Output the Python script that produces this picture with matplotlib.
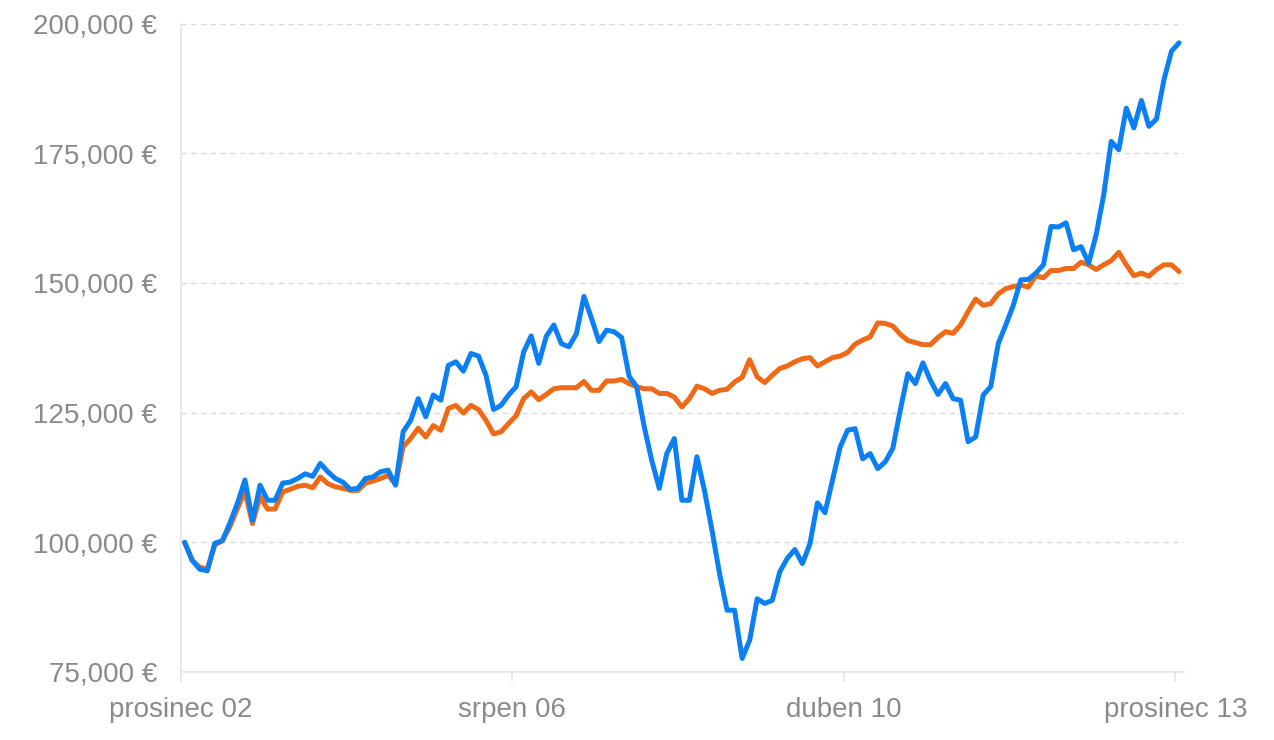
import matplotlib

matplotlib.use("Agg")
import matplotlib.pyplot as plt  # noqa: E402
import numpy as np  # noqa: E402
from matplotlib.ticker import FuncFormatter  # noqa: E402

# monthly portfolio value in thousands of euro, prosinec 2002 .. prosinec 2013
blue_values = [
    100.0, 96.5, 94.8, 94.5, 99.8, 100.3, 103.7, 107.5, 112.0, 104.2,
    111.0, 108.1, 108.1, 111.4, 111.6, 112.3, 113.2, 112.7, 115.2, 113.6,
    112.3, 111.6, 110.2, 110.4, 112.3, 112.6, 113.6, 113.9, 111.0, 121.3,
    123.5, 127.7, 124.2, 128.4, 127.4, 134.1, 134.8, 133.0, 136.4, 135.9,
    132.2, 125.6, 126.4, 128.4, 130.0, 136.7, 139.8, 134.5, 139.7, 141.9,
    138.3, 137.7, 140.2, 147.4, 143.2, 138.7, 140.9, 140.6, 139.5, 132.0,
    130.0, 122.3, 115.8, 110.4, 117.1, 120.0, 108.1, 108.1, 116.5, 110.0,
    102.3, 94.0, 86.9, 86.9, 77.6, 81.1, 89.1, 88.2, 88.8, 94.3,
    96.9, 98.6, 95.9, 99.7, 107.6, 105.7, 112.0, 118.3, 121.6, 121.9,
    116.1, 117.1, 114.2, 115.5, 118.1, 125.5, 132.5, 130.6, 134.6, 131.2,
    128.5, 130.6, 127.7, 127.4, 119.4, 120.3, 128.4, 130.0, 138.3, 141.9,
    145.7, 150.6, 150.7, 151.9, 153.5, 160.9, 160.8, 161.6, 156.4, 157.0,
    153.8, 159.3, 167.0, 177.3, 175.7, 183.7, 179.9, 185.2, 180.2, 181.6,
    189.2, 194.7, 196.3,
]
orange_values = [
    100.0, 96.5, 95.2, 94.8, 99.5, 100.3, 103.0, 106.5, 109.8, 103.6,
    108.8, 106.4, 106.4, 109.7, 110.2, 110.8, 111.0, 110.5, 112.6, 111.3,
    110.7, 110.4, 110.0, 110.0, 111.4, 111.8, 112.3, 112.9, 111.2, 118.4,
    120.0, 122.0, 120.3, 122.5, 121.6, 125.8, 126.4, 124.9, 126.4, 125.6,
    123.5, 120.9, 121.3, 122.9, 124.4, 127.7, 129.0, 127.5, 128.5, 129.6,
    129.8, 129.8, 129.8, 131.0, 129.3, 129.3, 131.1, 131.1, 131.4, 130.6,
    130.0, 129.6, 129.6, 128.7, 128.7, 128.0, 126.1, 127.7, 130.1, 129.6,
    128.7, 129.3, 129.5, 130.9, 131.8, 135.2, 131.9, 130.8, 132.2, 133.5,
    134.0, 134.8, 135.4, 135.6, 134.0, 134.8, 135.6, 135.9, 136.6, 138.2,
    139.0, 139.6, 142.3, 142.2, 141.7, 140.1, 138.9, 138.5, 138.1, 138.1,
    139.5, 140.6, 140.3, 141.9, 144.5, 146.9, 145.7, 146.0, 147.9, 148.9,
    149.3, 149.6, 149.2, 151.4, 151.0, 152.4, 152.4, 152.8, 152.8, 154.0,
    153.5, 152.6, 153.5, 154.3, 155.9, 153.5, 151.4, 151.9, 151.3, 152.6,
    153.5, 153.5, 152.2,
]
tick_months = [0, 44, 88, 132]
tick_labels = ["prosinec 02", "srpen 06", "duben 10", "prosinec 13"]
y_ticks = [75000, 100000, 125000, 150000, 175000, 200000]

plt.rcParams["font.family"] = ["Liberation Sans", "DejaVu Sans"]

fig = plt.figure(figsize=(12.74, 7.40), dpi=100)
ax = fig.add_axes([0.142, 0.092, 0.787, 0.876])

x = np.arange(len(blue_values)) + 0.5  # points sit mid-month
ax.plot(x, np.array(orange_values) * 1000, color="#ee6a16", lw=3.6,
        solid_joinstyle="round", solid_capstyle="round", zorder=3)
ax.plot(x, np.array(blue_values) * 1000, color="#0a80f4", lw=3.6,
        solid_joinstyle="round", solid_capstyle="round", zorder=4)

ax.set_xlim(0, 133.1)
ax.set_ylim(75000, 200000)
ax.set_yticks(y_ticks)
ax.yaxis.set_major_formatter(FuncFormatter(lambda v, _: f"{v:,.0f} €"))
ax.set_xticks(tick_months)
ax.set_xticklabels(tick_labels)

ax.grid(axis="y", color="#dadada", ls=(0, (4, 3)), lw=1)
ax.set_axisbelow(True)
for side in ("top", "right"):
    ax.spines[side].set_visible(False)
for side in ("left", "bottom"):
    ax.spines[side].set_color("#e4e4ec")
    ax.spines[side].set_linewidth(1.2)

ax.tick_params(axis="y", length=0, pad=17, labelsize=20, labelcolor="#8a8a8a")
ax.tick_params(axis="x", length=7, width=1.2, color="#e4e4ec", pad=11,
               labelsize=20, labelcolor="#8a8a8a")

fig.savefig("out.png", dpi=100)
plt.close(fig)
